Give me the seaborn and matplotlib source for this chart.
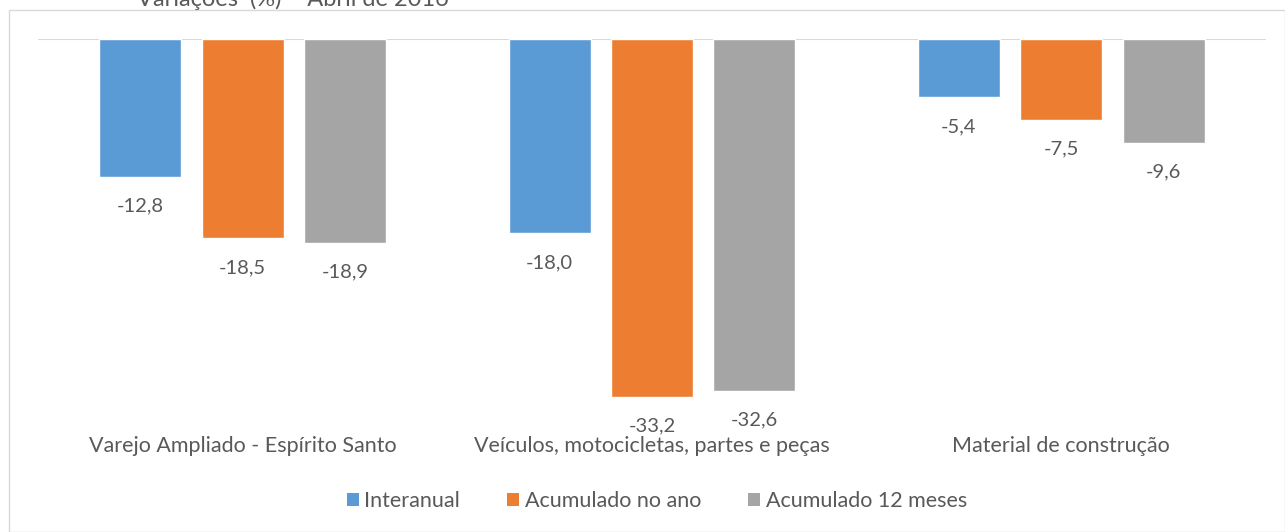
import matplotlib
matplotlib.use("Agg")
import matplotlib.pyplot as plt
import seaborn as sns
import pandas as pd
from matplotlib.patches import Rectangle, Patch

categories = ["Varejo Ampliado - Espírito Santo",
              "Veículos, motocicletas, partes e peças",
              "Material de construção"]
series = ["Interanual", "Acumulado no ano", "Acumulado 12 meses"]
interanual = [-12.8, -18.0, -5.4]
acum_ano = [-18.5, -33.2, -7.5]
acum_12m = [-18.9, -32.6, -9.6]
colors = ["#5B9BD5", "#ED7D31", "#A5A5A5"]

rows = []
for s, vals in zip(series, [interanual, acum_ano, acum_12m]):
    for c, v in zip(categories, vals):
        rows.append({"cat": c, "serie": s, "val": v})
df = pd.DataFrame(rows)

sns.set_theme(style="white")
plt.rcParams['font.family'] = ['Lato', 'DejaVu Sans']
txt = "#595959"

fig = plt.figure(figsize=(12.85, 5.32), dpi=100)
W, H = 1285, 532
ax = fig.add_axes([38 / W, 1 - 411 / H, 1228 / W, 372 / H])

sns.barplot(data=df, x="cat", y="val", hue="serie", order=categories,
            hue_order=series, palette=colors, width=0.75, gap=0.2,
            saturation=1, ax=ax, legend=False)

for cont in ax.containers:
    labels = [f"{b.get_height():.1f}".replace(".", ",") for b in cont]
    ax.bar_label(cont, labels=labels, padding=15, fontsize=14.5, color=txt)

ax.set_xlim(-0.5, 2.5)
ax.set_ylim(-34.5, 0)
ax.axhline(0, color="#D9D9D9", lw=1.5, zorder=0)
for sp in ax.spines.values():
    sp.set_visible(False)
ax.set_yticks([])
ax.set_xlabel("")
ax.set_ylabel("")
ax.tick_params(axis="x", length=0, pad=18, labelsize=15.5, labelcolor=txt)

handles = [Patch(facecolor=c, edgecolor="none") for c in colors]
fig.legend(handles, series, loc="center", bbox_to_anchor=(657 / W, 1 - 501 / H),
           ncol=3, frameon=False, fontsize=15.5, labelcolor=txt,
           handlelength=0.55, handleheight=0.55, handletextpad=0.25,
           columnspacing=2.2)

fig.patches.append(Rectangle((9 / W, 0), 1 - 9 / W, 1 - 10 / H,
                             transform=fig.transFigure, fill=False,
                             edgecolor="#D9D9D9", lw=1))
fig.text(137 / W, 1 + 1 / H, "Variações  (%) – Abril de 2016", ha="left",
         va="center", fontsize=17, color=txt)

fig.savefig("out.png", dpi=100)
